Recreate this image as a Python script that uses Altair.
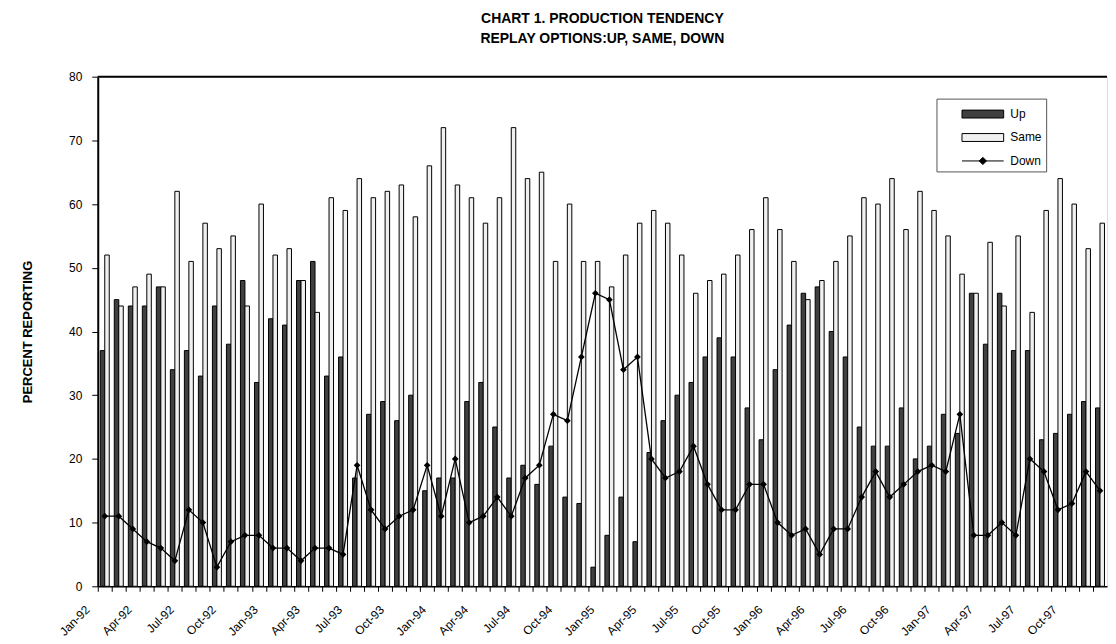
import altair as alt
import pandas as pd

FONT = "Liberation Sans"

month_abbr = ["Jan", "Feb", "Mar", "Apr", "May", "Jun", "Jul", "Aug", "Sep", "Oct", "Nov", "Dec"]
years = ["92", "93", "94", "95", "96", "97"]
months = [f"{m}-{y}" for y in years for m in month_abbr]

up = [37, 45, 44, 44, 47, 34, 37, 33, 44, 38, 48, 32,
      42, 41, 48, 51, 33, 36, 17, 27, 29, 26, 30, 15,
      17, 17, 29, 32, 25, 17, 19, 16, 22, 14, 13, 3,
      8, 14, 7, 21, 26, 30, 32, 36, 39, 36, 28, 23,
      34, 41, 46, 47, 40, 36, 25, 22, 22, 28, 20, 22,
      27, 24, 46, 38, 46, 37, 37, 23, 24, 27, 29, 28]
same = [52, 44, 47, 49, 47, 62, 51, 57, 53, 55, 44, 60,
        52, 53, 48, 43, 61, 59, 64, 61, 62, 63, 58, 66,
        72, 63, 61, 57, 61, 72, 64, 65, 51, 60, 51, 51,
        47, 52, 57, 59, 57, 52, 46, 48, 49, 52, 56, 61,
        56, 51, 45, 48, 51, 55, 61, 60, 64, 56, 62, 59,
        55, 49, 46, 54, 44, 55, 43, 59, 64, 60, 53, 57]
down = [11, 11, 9, 7, 6, 4, 12, 10, 3, 7, 8, 8,
        6, 6, 4, 6, 6, 5, 19, 12, 9, 11, 12, 19,
        11, 20, 10, 11, 14, 11, 17, 19, 27, 26, 36, 46,
        45, 34, 36, 20, 17, 18, 22, 16, 12, 12, 16, 16,
        10, 8, 9, 5, 9, 9, 14, 18, 14, 16, 18, 19,
        18, 27, 8, 8, 10, 8, 20, 18, 12, 13, 18, 15]

series_names = ["Up", "Same", "Down"]
series_colors = ["#404040", "#f0f0f0", "#000000"]
title_lines = ["CHART 1. PRODUCTION TENDENCY", "REPLAY OPTIONS:UP, SAME, DOWN"]
y_title = "PERCENT REPORTING"
y_ticks = [0, 10, 20, 30, 40, 50, 60, 70, 80]

bars_df = pd.DataFrame({
    "month": months * 2,
    "series": ["Up"] * len(months) + ["Same"] * len(months),
    "value": up + same,
})
line_df = pd.DataFrame({"month": months, "series": "Down", "value": down})

W, H = 1012, 511

x_enc = alt.X(
    "month:N",
    sort=months,
    scale=alt.Scale(paddingInner=0.36, paddingOuter=0.18),
    axis=alt.Axis(
        title=None,
        labelAngle=-45,
        labelAlign="right",
        labelBaseline="middle",
        labelExpr="indexof(['Jan','Apr','Jul','Oct'], substring(datum.value,0,3)) >= 0 ? datum.value : ''",
        labelOverlap=False,
        bandPosition=0,
        tickOffset=-2.6,
        labelOffset=-15,
        tickSize=5,
        tickColor="black",
        domainColor="black",
        domainWidth=1.5,
        labelFontSize=12,
        labelPadding=16,
        labelFont=FONT,
        labelColor="black",
    ),
)
y_scale = alt.Scale(domain=[0, 80], nice=False)
y_axis = alt.Axis(
    values=y_ticks,
    title=y_title,
    titleFont=FONT,
    titleFontSize=13,
    titleFontWeight="bold",
    titleColor="black",
    titleX=-70,
    titleY=H / 2,
    titleAngle=-90,
    titleAlign="center",
    titleBaseline="middle",
    labelFont=FONT,
    labelFontSize=12,
    labelColor="black",
    labelPadding=10,
    tickSize=6,
    tickColor="black",
    domainColor="black",
    domainWidth=2,
    grid=False,
)

bar_path = "M-1.9,-0.36H1.9V0.36H-1.9Z"
down_path = "M-1.9,0H1.9M0,-0.33L0.33,0L0,0.33L-0.33,0Z"
legend_shapes = [bar_path, bar_path, down_path]


def make_legend():
    return alt.Legend(
        title=None,
        orient="none",
        legendX=841,
        legendY=22,
        labelFont=FONT,
        labelFontSize=12,
        labelColor="black",
        symbolSize=484,
        symbolOffset=31,
        labelOffset=16,
        rowPadding=5.5,
        padding=4,
        strokeColor="#555555",
        fillColor="white",
        symbolStrokeColor="black",
        symbolStrokeWidth=1,
        symbolOpacity=1,
    )


color_scale = alt.Scale(domain=series_names, range=series_colors)

bars = alt.Chart(bars_df).mark_bar(stroke="black", strokeWidth=1).encode(
    x=x_enc,
    xOffset=alt.XOffset("series:N", sort=["Up", "Same"],
                        scale=alt.Scale(domain=["Up", "Same"], paddingInner=0, paddingOuter=0)),
    y=alt.Y("value:Q", scale=y_scale, axis=y_axis),
    color=alt.Color("series:N", scale=color_scale, legend=make_legend()),
)

line = alt.Chart(line_df).mark_line(color="black", strokeWidth=1.3).encode(
    x=alt.X("month:N", sort=months),
    y=alt.Y("value:Q"),
)
points = alt.Chart(line_df).mark_point(shape="diamond", filled=True, color="black", size=45, opacity=1).encode(
    x=alt.X("month:N", sort=months),
    y=alt.Y("value:Q"),
)
# legend-only layer (no rows drawn) carrying shape/stroke scales for the merged legend
legend_layer = alt.Chart(line_df).transform_filter("false").mark_point(filled=True, opacity=1, strokeWidth=1).encode(
    x=alt.X("month:N", sort=months),
    y=alt.Y("value:Q"),
    color=alt.Color("series:N", scale=color_scale, legend=make_legend()),
    shape=alt.Shape("series:N", scale=alt.Scale(domain=series_names, range=legend_shapes), legend=make_legend()),
    stroke=alt.Stroke("series:N", scale=alt.Scale(domain=series_names, range=["black", "black", "black"]),
                      legend=make_legend()),
)
top_rule = alt.Chart(alt.Data(values=[{}])).mark_rule(color="black", strokeWidth=2).encode(
    y=alt.datum(80)
)

chart = alt.layer(bars, line, points, legend_layer, top_rule).properties(
    width=W,
    height=H,
    padding={"left": 14, "top": 3, "right": 0, "bottom": 0},
    title=alt.TitleParams(
        title_lines,
        font=FONT,
        fontSize=14,
        fontWeight="bold",
        color="black",
        anchor="middle",
        frame="group",
        lineHeight=20,
        offset=25,
    ),
).configure_view(stroke=None).configure(background="white")

chart.save("out.html", embed_options={"renderer": "svg", "actions": False})
